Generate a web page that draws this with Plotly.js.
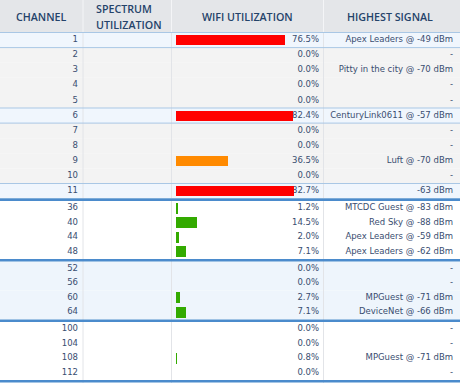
<!DOCTYPE html>
<html><head><meta charset="utf-8">
<script src="https://cdn.plot.ly/plotly-3.0.1.min.js"></script>
<style>html,body{margin:0;padding:0;background:#fff;overflow:hidden}</style>
</head><body><div id="chart" style="width:460px;height:383px"></div>
<script>
// ---- data ----
const channels = [1,2,3,4,5,6,7,8,9,10,11,36,40,44,48,52,56,60,64,100,104,108,112];
const wifiUtil = [76.5,0.0,0.0,0.0,0.0,82.4,0.0,0.0,36.5,0.0,82.7,1.2,14.5,2.0,7.1,0.0,0.0,2.7,7.1,0.0,0.0,0.8,0.0];
const highestSignal = ["Apex Leaders @ -49 dBm","-","Pitty in the city @ -70 dBm","-","-",
  "CenturyLink0611 @ -57 dBm","-","-","Luft @ -70 dBm","-","-63 dBm",
  "MTCDC Guest @ -83 dBm","Red Sky @ -88 dBm","Apex Leaders @ -59 dBm","Apex Leaders @ -62 dBm",
  "-","-","MPGuest @ -71 dBm","DeviceNet @ -66 dBm",
  "-","-","MPGuest @ -71 dBm","-"];
const channelGroups = [[1,2,3,4,5,6,7,8,9,10,11],[36,40,44,48],[52,56,60,64],[100,104,108,112]];
const highlightedChannels = [1,6,11];
const headerLabels = ["CHANNEL","SPECTRUM","UTILIZATION","WIFI UTILIZATION","HIGHEST SIGNAL"];

// ---- layout geometry (pixels) ----
const W = 460, H = 383, headerH = 32.5, sepW = 2.5;
const pitch = [15.1, 14.5, 14.5, 14.5];
const barH = [10, 11, 11, 11];
const groupBg = [null, '#ffffff', '#eef5fc', '#ffffff'];
const rowTop = [], rowBot = [], rowMid = [], rowGroup = [], groupEnd = [];
let yy = headerH;
channelGroups.forEach((g, gi) => {
  g.forEach(() => { rowTop.push(yy); rowMid.push(yy + pitch[gi]/2); yy += pitch[gi]; rowBot.push(yy); rowGroup.push(gi); });
  groupEnd.push(yy); yy += sepW;
});

const shapes = [];
function rect(x0,x1,y0,y1,color){ shapes.push({type:'rect',xref:'x',yref:'y',x0,x1,y0,y1,fillcolor:color,line:{width:0},layer:'below'}); }
function hline(y,color,w){ shapes.push({type:'line',xref:'x',yref:'y',x0:0,x1:W,y0:y,y1:y,line:{color,width:w},layer:'below'}); }
rect(0, W, 0, headerH, '#e4e6e9');
channels.forEach((ch, i) => {
  const g = rowGroup[i];
  let c = groupBg[g];
  if (g === 0) c = highlightedChannels.includes(ch) ? '#f0f6fd' : '#f3f3f3';
  rect(0, W, rowTop[i], rowBot[i], c);
});
// column separators
[83, 171.5, 323.5].forEach(x => {
  shapes.push({type:'line',xref:'x',yref:'y',x0:x,x1:x,y0:0,y1:headerH,line:{color:'#f4f5f7',width:1},layer:'below'});
  shapes.push({type:'line',xref:'x',yref:'y',x0:x,x1:x,y0:headerH,y1:H,line:{color:'#e2e4e8',width:1},layer:'below'});
});
hline(headerH, '#a9c7e5', 1);
channels.forEach((ch, i) => {
  if (highlightedChannels.includes(ch)) { hline(rowTop[i], '#a9c7e5', 1); hline(rowBot[i], '#a9c7e5', 1); }
});
groupEnd.forEach(y => rect(0, W, y, y + sepW, '#4b8bcc'));

const barColors = wifiUtil.map(v => v >= 50 ? '#ff0000' : (v >= 25 ? '#ff8a00' : '#33aa00'));
const textColor = '#394d70';
const bodyFont = {family:'DejaVu Sans, Verdana, sans-serif', size:8.5, color:textColor};

const traces = [
  {type:'scatter', mode:'text', x:channels.map(()=>78), y:rowMid, text:channels.map(String),
   textposition:'middle left', textfont:bodyFont, xaxis:'x', yaxis:'y', hoverinfo:'skip', cliponaxis:false},
  {type:'scatter', mode:'text', x:channels.map(()=>319), y:rowMid, text:wifiUtil.map(v=>v.toFixed(1)+'%'),
   textposition:'middle left', textfont:bodyFont, xaxis:'x', yaxis:'y', hoverinfo:'skip', cliponaxis:false},
  {type:'scatter', mode:'text', x:channels.map(()=>453), y:rowMid, text:highestSignal,
   textposition:'middle left', textfont:bodyFont, xaxis:'x', yaxis:'y', hoverinfo:'skip', cliponaxis:false},
  {type:'bar', orientation:'h', x:wifiUtil, y:rowMid, base:0, width:rowGroup.map(g=>barH[g]),
   marker:{color:barColors, line:{width:0}}, xaxis:'x2', yaxis:'y', hoverinfo:'skip'}
];

const pxPerPct = 1.425, barStart = 176;
const hdrFont = {family:'Open Sans, sans-serif', size:10.7, color:'#24436a', weight:600};
const annotations = [
  {text:headerLabels[0], x:41, y:16.5, xanchor:'center', yanchor:'middle'},
  {text:headerLabels[1], x:94, y:9.3, xanchor:'left', yanchor:'middle'},
  {text:headerLabels[2], x:94, y:25, xanchor:'left', yanchor:'middle'},
  {text:headerLabels[3], x:247, y:16.5, xanchor:'center', yanchor:'middle'},
  {text:headerLabels[4], x:390, y:16.5, xanchor:'center', yanchor:'middle'}
].map(a => Object.assign({xref:'x', yref:'y', showarrow:false, font:hdrFont}, a));

const layout = {
  width: W, height: H,
  margin: {l:0, r:0, t:0, b:0, pad:0},
  paper_bgcolor: '#ffffff', plot_bgcolor: '#ffffff',
  showlegend: false, hovermode: false,
  xaxis: {range:[0, W], visible:false, fixedrange:true},
  xaxis2: {range:[-barStart/pxPerPct, (W-barStart)/pxPerPct], overlaying:'x', visible:false, fixedrange:true, anchor:'y'},
  yaxis: {range:[H, 0], visible:false, fixedrange:true},
  bargap: 0,
  shapes, annotations
};
Plotly.newPlot('chart', traces, layout, {displayModeBar:false, staticPlot:true});
</script></body></html>
